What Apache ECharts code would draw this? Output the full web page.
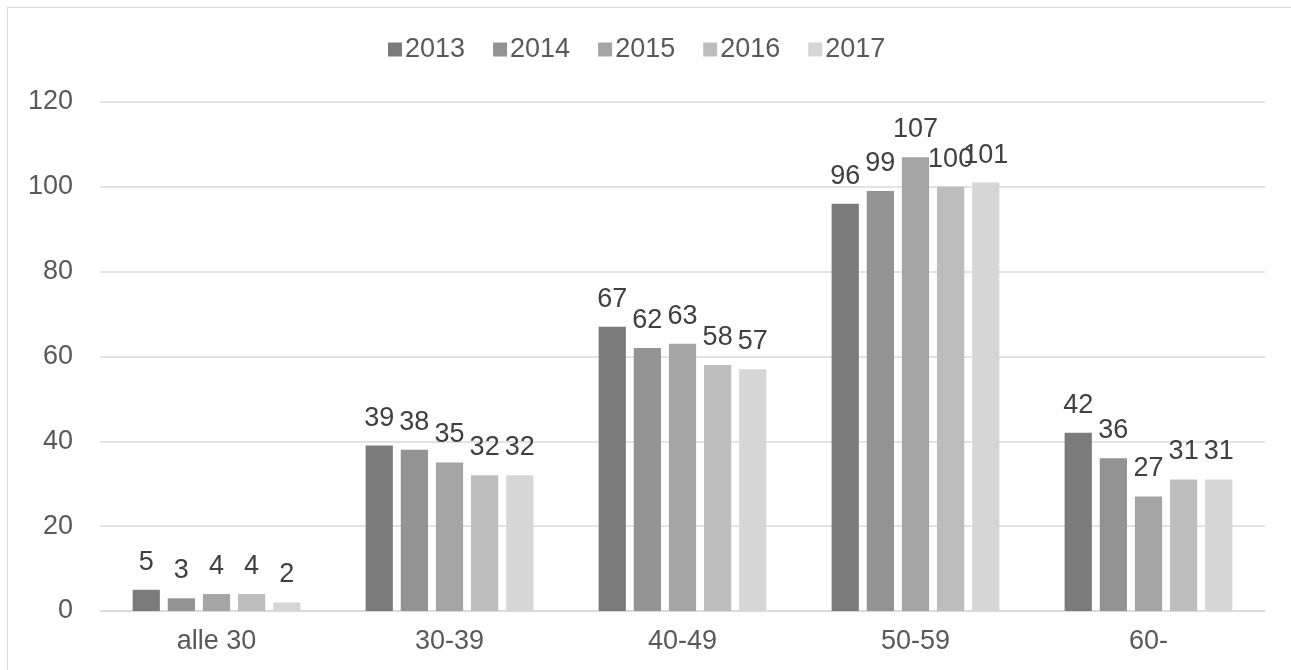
<!DOCTYPE html>
<html><head><meta charset="utf-8">
<script src="https://cdn.jsdelivr.net/npm/echarts@6/dist/echarts.min.js"></script>
<style>
html,body{margin:0;padding:0;background:#fff;overflow:hidden}
#frame{position:absolute;left:7px;top:7px;width:1300px;height:700px;border:1px solid #d9d9d9;box-sizing:border-box}
#c{position:absolute;left:0;top:0;width:1291px;height:670px}
</style></head><body>
<div id="frame"></div>
<div id="c"></div>
<script>
const categories = ['alle 30','30-39','40-49','50-59','60-'];
const years = ['2013','2014','2015','2016','2017'];
const v2013 = [5,39,67,96,42];
const v2014 = [3,38,62,99,36];
const v2015 = [4,35,63,107,27];
const v2016 = [4,32,58,100,31];
const v2017 = [2,32,57,101,31];
const yTicks = [0,20,40,60,80,100,120];
const colors = ['#7b7b7b','#939393','#a5a5a5','#bdbdbd','#d6d6d6'];
const data = [v2013,v2014,v2015,v2016,v2017];
const font = 'Liberation Sans, Arial, sans-serif';
const chart = echarts.init(document.getElementById('c'), null, {renderer:'canvas'});
chart.setOption({
  animation:false,
  textStyle:{fontFamily:font},
  legend:{
    top:31, left:383, itemWidth:14, itemHeight:14, itemGap:28,
    icon:'rect',
    textStyle:{fontSize:27, color:'#595959', fontFamily:font, padding:[0,0,0,-2]},
    data:years
  },
  grid:{left:100, right:26, top:102, bottom:59},
  xAxis:{
    type:'category', data:categories,
    axisLine:{lineStyle:{color:'#d9d9d9', width:1.5}},
    axisTick:{show:false},
    axisLabel:{fontSize:27, color:'#595959', margin:17, fontFamily:font}
  },
  yAxis:{
    type:'value', min:0, max:120, interval:20,
    axisLine:{show:false}, axisTick:{show:false},
    splitLine:{lineStyle:{color:'#d9d9d9', width:1.5}},
    axisLabel:{fontSize:27, color:'#595959', margin:27, fontFamily:font,
      formatter:function(v){return yTicks.indexOf(v)>=0?String(v):'';}}
  },
  series: years.map((y,i)=>({
    name:y, type:'bar', data:data[i],
    itemStyle:{color:colors[i]},
    barCategoryGap:'28%', barGap:'29%',
    label:{show:true, position:'top', distance:14, fontSize:27, color:'#404040', fontFamily:font}
  }))
});
</script>
</body></html>
